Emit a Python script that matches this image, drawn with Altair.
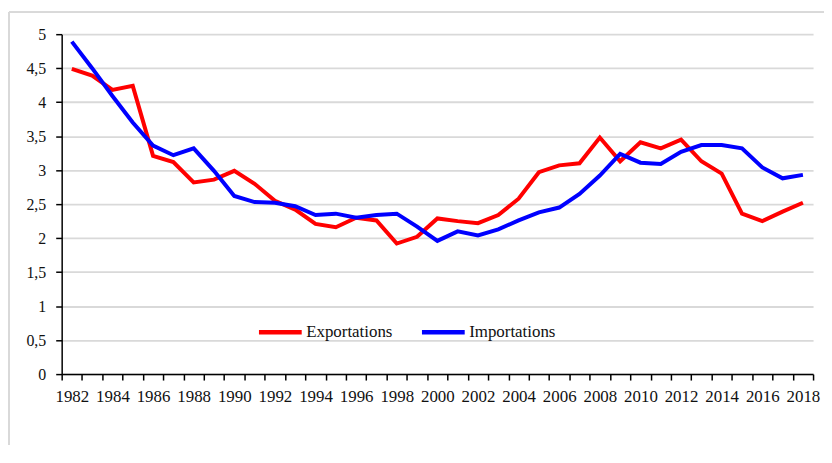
import altair as alt
import pandas as pd

years = list(range(1982, 2019))
exportations = [4.49, 4.39, 4.18, 4.24, 3.21, 3.12, 2.82, 2.86, 2.99, 2.80,
                2.55, 2.42, 2.21, 2.16, 2.30, 2.26, 1.92, 2.02, 2.29, 2.25,
                2.22, 2.34, 2.58, 2.97, 3.07, 3.10, 3.48, 3.13, 3.41, 3.32,
                3.45, 3.13, 2.95, 2.36, 2.25, 2.39, 2.52]
importations = [4.89, 4.50, 4.09, 3.70, 3.36, 3.22, 3.32, 2.99, 2.62, 2.53,
                2.52, 2.47, 2.34, 2.36, 2.30, 2.34, 2.36, 2.17, 1.96, 2.10,
                2.04, 2.13, 2.26, 2.38, 2.45, 2.65, 2.92, 3.24, 3.11, 3.09,
                3.27, 3.37, 3.37, 3.32, 3.04, 2.88, 2.93]
series = ["Exportations", "Importations"]
colors = ["#FF0000", "#0000FF"]
y_ticks = [0, 0.5, 1, 1.5, 2, 2.5, 3, 3.5, 4, 4.5, 5]

df = pd.DataFrame({
    "Année": years * 2,
    "Valeur": exportations + importations,
    "Série": [series[0]] * len(years) + [series[1]] * len(years),
})

FONT = "Liberation Serif"
TXT = "#111111"

lines = alt.Chart(df).mark_line(strokeWidth=4, strokeJoin="miter").encode(
    x=alt.X(
        "Année:O",
        bandPosition=0.5,
        scale=alt.Scale(type="band", paddingInner=0, paddingOuter=0),
        axis=alt.Axis(
            title=None,
            tickBand="extent",
            labelAngle=0,
            labelOverlap=False,
            labelExpr="toNumber(datum.value) % 2 == 0 ? datum.label : ''",
            labelFont=FONT,
            labelFontSize=17,
            labelColor=TXT,
            labelPadding=9,
            tickColor="#000000",
            tickSize=6,
            tickWidth=1.5,
            domainColor="#000000",
            domainWidth=1.5,
        ),
    ),
    y=alt.Y(
        "Valeur:Q",
        scale=alt.Scale(domain=[0, 5], nice=False),
        axis=alt.Axis(
            title=None,
            values=y_ticks,
            labelExpr="replace(toString(datum.value), '.', ',')",
            labelFont=FONT,
            labelFontSize=16,
            labelColor=TXT,
            labelPadding=10,
            tickColor="#000000",
            tickSize=6,
            tickWidth=1.5,
            domainColor="#000000",
            domainWidth=1.5,
            grid=True,
            gridColor="#d9d9d9",
            gridWidth=1.8,
        ),
    ),
    color=alt.Color(
        "Série:N",
        scale=alt.Scale(domain=series, range=colors),
        legend=alt.Legend(
            title=None,
            orient="none",
            legendX=196,
            legendY=276,
            direction="horizontal",
            symbolType="stroke",
            symbolStrokeWidth=4.5,
            symbolSize=1850,
            labelFont=FONT,
            labelFontSize=17,
            labelColor=TXT,
            labelOffset=2,
            columnPadding=20,
        ),
    ),
)

frame_top = alt.Chart(df).mark_rule(color="#d9d9d9", strokeWidth=1.5).encode(
    x=alt.value(-53), x2=alt.value(770), y=alt.value(-22)
)
frame_left = alt.Chart(df).mark_rule(color="#d9d9d9", strokeWidth=1.5).encode(
    x=alt.value(-53), y=alt.value(-22), y2=alt.value(420)
)

chart = alt.layer(frame_top, frame_left, lines).properties(
    width=756,
    height=342,
    autosize=alt.AutoSizeParams(type="none"),
    padding={"left": 54, "top": 25, "right": 11, "bottom": 70},
).configure_view(stroke=None)

chart.save("out.html", embed_options={"renderer": "svg", "actions": False})
